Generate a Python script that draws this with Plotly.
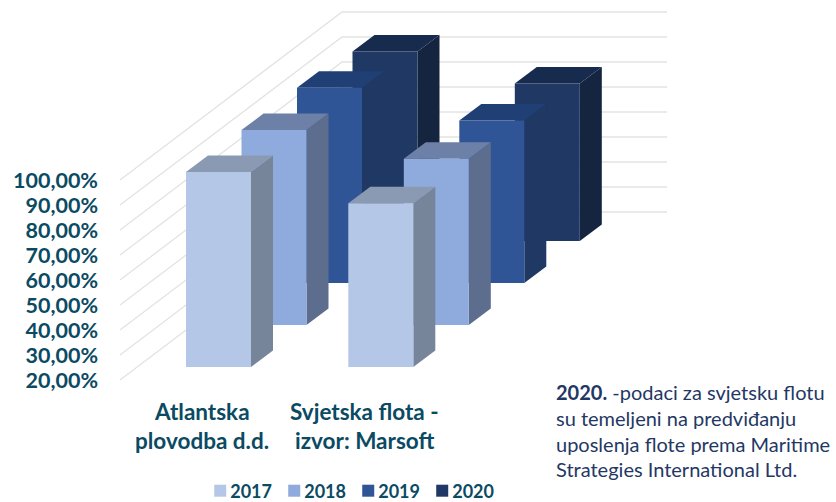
import plotly.graph_objects as go

categories = ["Atlantska<br>plovodba d.d.", "Svjetska flota -<br>izvor: Marsoft"]
years = ["2017", "2018", "2019", "2020"]
v2017 = [98.0, 85.5]
v2018 = [98.0, 86.5]
v2019 = [98.1, 85.0]
v2020 = [95.8, 83.0]
y_ticks = [20, 30, 40, 50, 60, 70, 80, 90, 100]
y_labels = ["20,00%", "30,00%", "40,00%", "50,00%", "60,00%", "70,00%", "80,00%", "90,00%", "100,00%"]
note_lines = ["<b>2020.</b> -podaci za svjetsku flotu", "su temeljeni na predviđanju",
              "uposlenja flote prema Maritime", "Strategies International Ltd."]
front = ["#B4C7E7", "#8FAADC", "#2F5597", "#1F3864"]
side = ["#76859A", "#5D6D8E", "#1F3864", "#15243F"]
top = ["#8A9AB2", "#6C80A8", "#203F74", "#172B4E"]
TEAL = "#0B4A63"
NAVY = "#1F3864"
FONT = "Lato"

W, H, ML = 836, 502, 103
PX = 2.5                    # pixels per percentage point
def to_val(py):             # pixel row to value units, fixes the axis range
    return 20 + (380 - py) / PX

# oblique projection parameters
WALL_X0, WALL_DX, WALL_END = 120, 222, 667
WALL_DV = 168 / PX
BAR_X0, BAR_W = 186, 65
CAT_STEP, SER_DX, SER_DV = 162.3, 55.5, 42 / PX
DEPTH_X, DEPTH_V = 22, 16.5 / PX
BASE0 = to_val(367)

fig = go.Figure()
for t in y_ticks:
    fig.add_trace(go.Scatter(
        x=[WALL_X0, WALL_X0 + WALL_DX, WALL_END], y=[t, t + WALL_DV, t + WALL_DV],
        mode="lines", line=dict(color="#E3E3E3", width=1.3), showlegend=False, hoverinfo="skip"))

def face(xs, ys, color, name):
    fig.add_trace(go.Scatter(x=xs + xs[:1], y=ys + ys[:1], mode="lines", fill="toself", fillcolor=color,
                             line=dict(width=0, color=color), showlegend=False, hoverinfo="skip", name=name))

series = [v2017, v2018, v2019, v2020]
for s in range(3, -1, -1):
    for c in range(len(categories)):
        x0 = BAR_X0 + c * CAT_STEP + s * SER_DX
        x1 = x0 + BAR_W
        b = BASE0 + s * SER_DV
        t = b + series[s][c] - 20
        face([x1, x1 + DEPTH_X, x1 + DEPTH_X, x1], [b, b + DEPTH_V, t + DEPTH_V, t], side[s], years[s])
        face([x0, x1, x1 + DEPTH_X, x0 + DEPTH_X], [t, t, t + DEPTH_V, t + DEPTH_V], top[s], years[s])
        face([x0, x1, x1, x0], [b, b, t, t], front[s], years[s])

for s, yr in enumerate(years):
    fig.add_trace(go.Scatter(x=[None], y=[None], mode="markers", name=yr,
                             marker=dict(symbol="square", size=12, color=front[s])))

annos = []
for cx, lab in zip([202, 364], categories):
    l1, l2 = lab.split("<br>")
    for py, txt in ((411, l1), (440, l2)):
        annos.append(dict(x=cx, y=1 - py / H, xref="x", yref="paper", text=f"<b>{txt}</b>", showarrow=False,
                          xanchor="center", yanchor="middle", font=dict(family=FONT, size=22.5, color=TEAL)))
for py, txt in zip([392, 418, 444, 469], note_lines):
    annos.append(dict(x=554, y=1 - py / H, xref="x", yref="paper", text=txt, showarrow=False,
                      xanchor="left", yanchor="middle", font=dict(family=FONT, size=20, color=NAVY)))

fig.update_layout(
    width=W, height=H, margin=dict(l=ML, r=0, t=0, b=0, autoexpand=False),
    paper_bgcolor="white", plot_bgcolor="white",
    xaxis=dict(range=[ML, W], visible=False, fixedrange=True),
    yaxis=dict(range=[to_val(H), to_val(0)], tickvals=y_ticks, ticktext=y_labels, showgrid=False,
               zeroline=False, showline=False, ticks="", ticklabelstandoff=4,
               tickfont=dict(family=FONT, size=21.5, color=TEAL, weight="bold"), fixedrange=True),
    legend=dict(orientation="h", x=0.119, y=1 - 491 / H, xanchor="left", yanchor="middle", entrywidth=29, entrywidthmode="pixels",
                font=dict(family=FONT, size=18, color=TEAL, weight="bold"), bgcolor="rgba(0,0,0,0)",
                itemclick=False, itemdoubleclick=False, tracegroupgap=0),
    annotations=annos, showlegend=True)

POST = """
document.body.style.margin='0';document.body.style.overflow='hidden';
(function(){var gd=document.getElementById('{plot_id}');
function nudge(){
document.querySelectorAll('.legendsymbols').forEach(function(e){e.setAttribute('transform','translate(10,0)');});
document.querySelectorAll('.legend .scrollbox').forEach(function(e){e.removeAttribute('clip-path');e.style.clipPath='none';});
}
nudge(); if(gd&&gd.on){gd.on('plotly_afterplot',nudge);} setTimeout(nudge,100);})();
"""
fig.write_html("out.html", config={"displayModeBar": False}, post_script=POST)
